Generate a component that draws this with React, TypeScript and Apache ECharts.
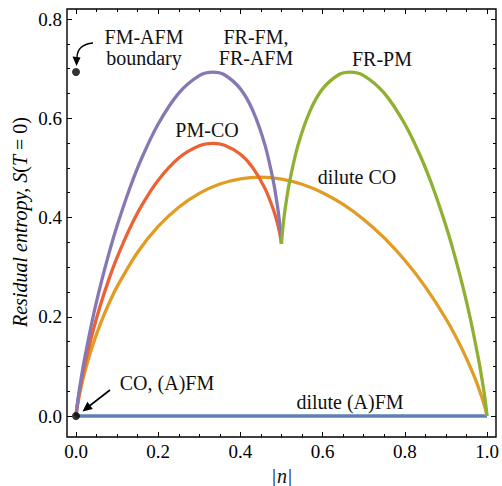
import React, { useEffect, useRef } from "react";
import * as echarts from "echarts";

// |n| values and residual entropy readings
const nLeft = [0, 0.002, 0.005, 0.01, 0.02, 0.04, 0.06, 0.08, 0.1, 0.13, 0.16, 0.2, 0.25, 0.3, 0.3333, 0.36, 0.4, 0.43, 0.46, 0.48, 0.49, 0.495, 0.498, 0.5];
const sFrFm = [0, 0.0158, 0.0349, 0.0628, 0.1115, 0.194, 0.2647, 0.3273, 0.3833, 0.457, 0.5199, 0.5885, 0.6507, 0.686, 0.6931, 0.6881, 0.6592, 0.6158, 0.5454, 0.4737, 0.424, 0.3922, 0.3685, 0.3466];
const sPmCo = [0, 0.0144, 0.0315, 0.056, 0.0978, 0.1671, 0.2251, 0.2753, 0.3195, 0.3766, 0.4244, 0.4751, 0.5199, 0.5445, 0.5493, 0.546, 0.5275, 0.5005, 0.4582, 0.4167, 0.3887, 0.3711, 0.3582, 0.3466];

const nRight = [0.5, 0.502, 0.505, 0.51, 0.52, 0.54, 0.57, 0.6, 0.64, 0.6667, 0.7, 0.75, 0.8, 0.84, 0.87, 0.9, 0.92, 0.94, 0.96, 0.98, 0.99, 0.995, 0.998, 1];
const sFrPm = [0.3466, 0.3685, 0.3922, 0.424, 0.4737, 0.5454, 0.6158, 0.6592, 0.6881, 0.6931, 0.686, 0.6507, 0.5885, 0.5199, 0.457, 0.3833, 0.3273, 0.2647, 0.194, 0.1115, 0.0628, 0.0349, 0.0158, 0];

const nFull = [0, 0.002, 0.005, 0.01, 0.02, 0.04, 0.06, 0.08, 0.1, 0.15, 0.2, 0.25, 0.3, 0.35, 0.4, 0.45, 0.5, 0.55, 0.6, 0.65, 0.7, 0.75, 0.8, 0.85, 0.9, 0.94, 0.97, 0.99, 0.995, 1];
const sDiluteCo = [0, 0.013, 0.028, 0.0491, 0.0844, 0.141, 0.1872, 0.2265, 0.2608, 0.33, 0.3819, 0.4206, 0.4486, 0.4674, 0.478, 0.4812, 0.4774, 0.4669, 0.4499, 0.4263, 0.3961, 0.3589, 0.3139, 0.2603, 0.1959, 0.1338, 0.0777, 0.0315, 0.0175, 0];

const nDiluteFm = [0, 1];
const sDiluteFm = [0, 0];

const pointN = [0, 0];
const pointS = [0.6931, 0];

const xTicks = ["0.0", "0.2", "0.4", "0.6", "0.8", "1.0"];

const COLORS = {
  blue: "#5E81B5",
  orange: "#E19C24",
  green: "#8FB032",
  red: "#EB6235",
  purple: "#8778B3",
};

const FONT = "'Liberation Serif', 'Times New Roman', serif";

function pairs(xs: number[], ys: number[]) {
  return xs.map((x, i) => [x, ys[i]]);
}

export default function App() {
  const ref = useRef<HTMLDivElement>(null);
  useEffect(() => {
    if (!ref.current) return;
    const chart = echarts.init(ref.current, undefined, { renderer: "svg" });
    const tickCommon = {
      axisLine: { show: false, onZero: false },
      axisTick: { show: true, inside: true, length: 5, lineStyle: { color: "#000", width: 1 } },
      minorTick: { show: true, splitNumber: 4, length: 3, lineStyle: { color: "#000", width: 1 } },
      splitLine: { show: false },
      minorSplitLine: { show: false },
    };
    const lineSeries = (name: string, data: number[][], color: string, z: number) => ({
      name,
      type: "line",
      data,
      showSymbol: false,
      symbol: "none",
      smooth: 0.3,
      clip: false,
      z,
      lineStyle: { color, width: 3.3 },
      emphasis: { disabled: true },
    });
    const txt = (text: string, x: number, y: number, italic = false) => ({
      type: "text",
      x,
      y,
      z: 100,
      style: {
        text,
        fill: "#111",
        font: `${italic ? "italic " : ""}20px ${FONT}`,
        textAlign: "center",
        textVerticalAlign: "middle",
      },
    });
    const option: any = {
      animation: false,
      backgroundColor: "#fff",
      grid: { left: 76, right: 15, top: 19, bottom: 70, containLabel: false },
      xAxis: [
        {
          type: "value",
          position: "bottom",
          offset: 21,
          min: 0,
          max: 1,
          interval: 0.2,
          ...tickCommon,
          axisLabel: {
            show: true,
            margin: 5,
            color: "#000",
            fontFamily: FONT,
            fontSize: 19,
            formatter: (v: number) => xTicks[Math.round(v / 0.2)] ?? v.toFixed(1),
          },
        },
        {
          type: "value",
          position: "top",
          offset: 10,
          min: 0,
          max: 1,
          interval: 0.2,
          ...tickCommon,
          axisLabel: { show: false },
        },
      ],
      yAxis: [
        {
          type: "value",
          position: "left",
          offset: 9,
          min: 0,
          max: 0.8,
          interval: 0.2,
          ...tickCommon,
          axisLabel: {
            show: true,
            margin: 5,
            color: "#000",
            fontFamily: FONT,
            fontSize: 19,
            formatter: (v: number) => v.toFixed(1),
          },
        },
        {
          type: "value",
          position: "right",
          offset: 9,
          min: 0,
          max: 0.8,
          interval: 0.2,
          ...tickCommon,
          axisLabel: { show: false },
        },
      ],
      series: [
        lineSeries("dilute (A)FM", pairs(nDiluteFm, sDiluteFm), COLORS.blue, 2),
        lineSeries("dilute CO", pairs(nFull, sDiluteCo), COLORS.orange, 3),
        lineSeries("PM-CO", pairs(nLeft, sPmCo), COLORS.red, 4),
        lineSeries("FR-FM, FR-AFM", pairs(nLeft, sFrFm), COLORS.purple, 5),
        lineSeries("FR-PM", pairs(nRight, sFrPm), COLORS.green, 6),
        {
          name: "points",
          type: "scatter",
          data: pairs(pointN, pointS),
          symbol: "circle",
          symbolSize: 8,
          clip: false,
          z: 10,
          itemStyle: { color: "#000" },
          emphasis: { disabled: true },
        },
      ],
      graphic: [
        {
          type: "rect",
          z: 50,
          shape: { x: 67, y: 9, width: 429, height: 428 },
          style: { fill: "none", stroke: "#000", lineWidth: 1.4 },
        },
        txt("FM-AFM", 144, 37),
        txt("boundary", 144, 58),
        txt("FR-FM,", 256, 37),
        txt("FR-AFM", 256, 58),
        txt("FR-PM", 382, 59),
        txt("PM-CO", 207, 130),
        txt("dilute CO", 357, 177),
        txt("CO, (A)FM", 167, 383),
        txt("dilute (A)FM", 350, 402),
        {
          type: "bezierCurve",
          z: 100,
          shape: { x1: 93, y1: 43, x2: 77, y2: 58, cpx1: 82, cpy1: 44, cpx2: 77, cpy2: 50 },
          style: { stroke: "#000", lineWidth: 1.3, fill: "none" },
        },
        {
          type: "polygon",
          z: 100,
          shape: { points: [[76.5, 66], [72.5, 56.5], [80.5, 57.5]] },
          style: { fill: "#000" },
        },
        {
          type: "line",
          z: 100,
          shape: { x1: 110, y1: 390, x2: 90, y2: 405.5 },
          style: { stroke: "#000", lineWidth: 1.6 },
        },
        {
          type: "polygon",
          z: 100,
          shape: { points: [[82.5, 411.5], [92.8, 409], [87.4, 401.8]] },
          style: { fill: "#000" },
        },
        {
          type: "text",
          z: 100,
          x: 20,
          y: 222,
          rotation: Math.PI / 2,
          style: {
            text: "{i|Residual entropy, S}{n|(}{i|T}{n| = 0)}",
            textAlign: "center",
            textVerticalAlign: "middle",
            font: `20px ${FONT}`,
            fill: "#000",
            rich: {
              i: { fontFamily: FONT, fontSize: 20, fontStyle: "italic", fill: "#000" },
              n: { fontFamily: FONT, fontSize: 20, fill: "#000" },
            },
          },
        },
        txt("|", 274, 476),
        txt("n", 282, 476, true),
        txt("|", 290, 476),
      ],
    };
    chart.setOption(option);
    return () => chart.dispose();
  }, []);
  return <div ref={ref} style={{ width: 502, height: 486, position: "absolute", left: 0, top: 0 }} />;
}
